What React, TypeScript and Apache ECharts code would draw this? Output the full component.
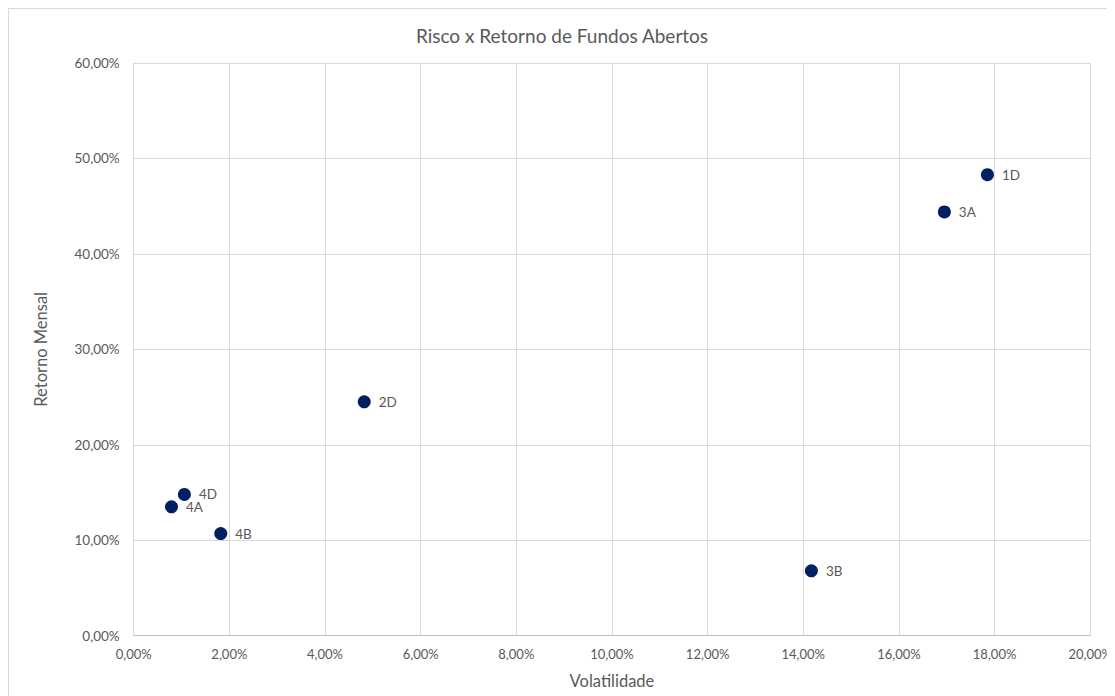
import React, { useEffect, useRef } from "react";
import * as echarts from "echarts";

const fundNames = ["1D", "3A", "2D", "4D", "4A", "4B", "3B"];
const volatility = [17.85, 16.95, 4.82, 1.06, 0.79, 1.82, 14.17];
const monthlyReturn = [48.3, 44.4, 24.5, 14.8, 13.5, 10.7, 6.8];

const textColor = "#595959";
const fontFamily = "Lato, 'Open Sans', sans-serif";

const fmt = (v: number) => v.toFixed(2).replace(".", ",") + "%";

export default function App() {
  const ref = useRef<HTMLDivElement>(null);
  useEffect(() => {
    if (!ref.current) return;
    const chart = echarts.init(ref.current, null, { renderer: "svg" });
    const data = fundNames.map((n, i) => ({ name: n, value: [volatility[i], monthlyReturn[i]] }));
    chart.setOption({
      animation: false,
      backgroundColor: "#ffffff",
      textStyle: { fontFamily },
      title: {
        text: "Risco x Retorno de Fundos Abertos",
        left: "center",
        top: 12,
        textStyle: { color: textColor, fontSize: 19, fontWeight: "normal", fontFamily },
      },
      grid: { left: 124.7, top: 54, right: 22.3, bottom: 60.3, containLabel: false },
      xAxis: {
        type: "value",
        min: 0,
        max: 20,
        interval: 2,
        name: "Volatilidade",
        nameLocation: "middle",
        nameGap: 37,
        nameTextStyle: { color: textColor, fontSize: 16.5, fontFamily },
        axisLine: { show: true, lineStyle: { color: "#bfbfbf", width: 1 } },
        axisTick: { show: false },
        axisLabel: { color: textColor, fontSize: 13, margin: 12, formatter: fmt, fontFamily },
        splitLine: { show: true, lineStyle: { color: "#d9d9d9", width: 1 } },
      },
      yAxis: {
        type: "value",
        min: 0,
        max: 60,
        interval: 10,
        name: "Retorno Mensal",
        nameLocation: "middle",
        nameGap: 84,
        nameTextStyle: { color: textColor, fontSize: 16.5, fontFamily },
        axisLine: { show: true, lineStyle: { color: "#d9d9d9", width: 1 } },
        axisTick: { show: false },
        axisLabel: { color: textColor, fontSize: 13.5, margin: 14, formatter: fmt, fontFamily },
        splitLine: { show: true, lineStyle: { color: "#d9d9d9", width: 1 } },
      },
      series: [
        {
          type: "scatter",
          data,
          symbol: "circle",
          symbolSize: 13,
          itemStyle: { color: "#002060", opacity: 1 },
          emphasis: { disabled: true },
          label: {
            show: true,
            position: "right",
            distance: 8,
            formatter: (p: any) => p.name,
            color: textColor,
            textBorderWidth: 0,
            fontSize: 13.5,
            fontFamily,
          },
        },
      ],
    });
    return () => chart.dispose();
  }, []);
  return (
    <div
      ref={ref}
      style={{
        width: 1107,
        height: 688,
        boxSizing: "border-box",
        borderLeft: "1px solid #d9d9d9",
        borderTop: "1px solid #d9d9d9",
      }}
    />
  );
}
